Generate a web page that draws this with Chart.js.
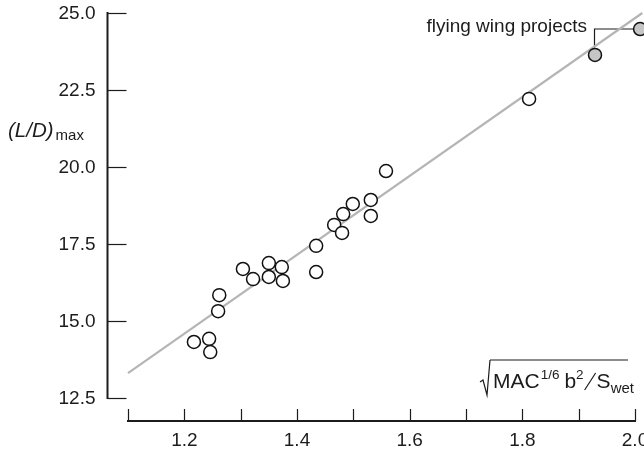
<!DOCTYPE html>
<html>
<head>
<meta charset="utf-8">
<style>
  html, body { margin: 0; padding: 0; background: #fff; }
  #wrap { width: 644px; height: 451px; }
</style>
<script src="https://cdn.jsdelivr.net/npm/chart.js@4.4.1/dist/chart.umd.min.js"></script>
</head>
<body>
<div id="wrap"><canvas id="chart" width="644" height="451"></canvas></div>
<script>
// conventional aircraft: sqrt(MAC^(1/6) b^2 / S_wet) against (L/D)max
const planeX = [1.217, 1.244, 1.246, 1.262, 1.260, 1.304, 1.322, 1.350, 1.350, 1.373, 1.375,
                1.434, 1.434, 1.466, 1.480, 1.482, 1.499, 1.531, 1.531, 1.558, 1.812];
const planeY = [14.32, 14.42, 13.99, 15.84, 15.32, 16.69, 16.36, 16.88, 16.43, 16.75, 16.30,
                17.44, 16.59, 18.12, 17.86, 18.47, 18.80, 18.93, 18.41, 19.87, 22.21];

// flying wing projects (grey markers)
const wingX = [1.929, 2.009];
const wingY = [23.64, 24.48];

// fitted trend line end points
const trendX = [1.1, 2.013];
const trendY = [13.31, 25.0];

const yTicks = [12.5, 15.0, 17.5, 20.0, 22.5, 25.0];
const yTickLabels = ['12.5', '15.0', '17.5', '20.0', '22.5', '25.0'];
const xTicks = [1.1, 1.2, 1.3, 1.4, 1.5, 1.6, 1.7, 1.8, 1.9, 2.0];
const xTickLabels = ['1.2', '1.4', '1.6', '1.8', '2.0'];

const toPoints = (xs, ys) => xs.map((x, i) => ({ x: x, y: ys[i] }));

const INK = '#1c1c1c';
const FONT = '"Liberation Sans", Arial, Helvetica, sans-serif';

// axes are drawn offset from the plot, ticks pointing inward
const axesPlugin = {
    id: 'offsetAxes',
    beforeDatasetsDraw(chart) {
        // bracket for the flying wing label
        const ctx = chart.ctx;
        const xs = chart.scales.x, ys = chart.scales.y;
        const ax = xs.getPixelForValue(wingX[0]), ay = ys.getPixelForValue(wingY[0]);
        const bx = xs.getPixelForValue(wingX[1]), by = ys.getPixelForValue(wingY[1]);
        ctx.save();
        ctx.strokeStyle = INK;
        ctx.lineWidth = 1.2;
        ctx.beginPath();
        ctx.moveTo(ax - 0.5, ay - 7);
        ctx.lineTo(ax - 0.5, by);
        ctx.lineTo(bx, by);
        ctx.stroke();
        ctx.fillStyle = INK;
        ctx.font = '19px ' + FONT;
        ctx.textAlign = 'right';
        ctx.textBaseline = 'alphabetic';
        ctx.fillText('flying wing projects', ax - 8, by + 3);
        ctx.restore();
    },
    afterDraw(chart) {
        const ctx = chart.ctx;
        const xs = chart.scales.x, ys = chart.scales.y;
        const area = chart.chartArea;
        const yAxisX = area.left - 20.5;
        const xAxisY = area.bottom + 23;

        ctx.save();
        ctx.strokeStyle = INK;
        ctx.fillStyle = INK;

        // y axis
        ctx.lineWidth = 2;
        ctx.beginPath();
        ctx.moveTo(yAxisX, ys.getPixelForValue(yTicks[yTicks.length - 1]) - 1);
        ctx.lineTo(yAxisX, ys.getPixelForValue(yTicks[0]) + 1);
        ctx.stroke();
        ctx.lineWidth = 1.2;
        yTicks.forEach(v => {
            const py = Math.round(ys.getPixelForValue(v)) + 0.5;
            ctx.beginPath();
            ctx.moveTo(yAxisX, py);
            ctx.lineTo(yAxisX + 19, py);
            ctx.stroke();
        });
        ctx.font = '19px ' + FONT;
        ctx.textAlign = 'right';
        ctx.textBaseline = 'middle';
        yTickLabels.forEach((lab, i) => {
            ctx.fillText(lab, yAxisX - 12, ys.getPixelForValue(yTicks[i]) + 0.5);
        });

        // x axis
        ctx.lineWidth = 2;
        ctx.beginPath();
        ctx.moveTo(xs.getPixelForValue(xTicks[0]) - 1, xAxisY);
        ctx.lineTo(xs.getPixelForValue(xTicks[xTicks.length - 1]) + 1, xAxisY);
        ctx.stroke();
        ctx.lineWidth = 1.2;
        xTicks.forEach(v => {
            const px = Math.round(xs.getPixelForValue(v)) + 0.5;
            ctx.beginPath();
            ctx.moveTo(px, xAxisY);
            ctx.lineTo(px, xAxisY - 12);
            ctx.stroke();
        });
        ctx.textAlign = 'center';
        ctx.textBaseline = 'alphabetic';
        xTickLabels.forEach(lab => {
            ctx.fillText(lab, xs.getPixelForValue(parseFloat(lab)), xAxisY + 25);
        });

        // y title: (L/D)max
        ctx.textAlign = 'left';
        ctx.font = 'italic 20.5px ' + FONT;
        ctx.fillText('(L/D)', 8, 137);
        const w = ctx.measureText('(L/D)').width;
        ctx.font = '15px ' + FONT;
        ctx.fillText('max', 8 + w + 2, 140);

        // x title: sqrt(MAC^(1/6) b^2 / S_wet)
        const bx = area.right - 152;
        const base = xAxisY - 33;
        ctx.lineWidth = 1.2;
        ctx.beginPath();
        ctx.moveTo(bx - 3, base - 6);
        ctx.lineTo(bx, base - 8);
        ctx.lineTo(bx + 4, base + 7);
        ctx.lineTo(bx + 7, base - 28);
        let cx = bx + 10;
        ctx.font = '21px ' + FONT;
        ctx.fillText('MAC', cx, base);
        cx += ctx.measureText('MAC').width + 1;
        ctx.font = '13.5px ' + FONT;
        ctx.fillText('1/6', cx, base - 9);
        cx += ctx.measureText('1/6').width + 5;
        ctx.font = '21px ' + FONT;
        ctx.fillText('b', cx, base);
        cx += ctx.measureText('b').width;
        ctx.font = '13.5px ' + FONT;
        ctx.fillText('2', cx, base - 9);
        cx += ctx.measureText('2').width + 1;
        ctx.moveTo(cx, base + 2);
        ctx.lineTo(cx + 11, base - 15);
        cx += 12;
        ctx.font = '21px ' + FONT;
        ctx.fillText('S', cx, base);
        cx += ctx.measureText('S').width;
        ctx.font = '15px ' + FONT;
        ctx.fillText('wet', cx, base + 5);
        cx += ctx.measureText('wet').width;
        // overline of the root sign
        ctx.moveTo(bx + 7, base - 28);
        ctx.lineTo(cx - 6, base - 28);
        ctx.stroke();

        ctx.restore();
    }
};

new Chart(document.getElementById('chart'), {
    type: 'scatter',
    data: {
        datasets: [
            {
                label: 'aircraft',
                data: toPoints(planeX, planeY),
                backgroundColor: '#ffffff',
                borderColor: '#111111',
                borderWidth: 1.5,
                pointRadius: 6.5,
                order: 1,
                clip: false
            },
            {
                label: 'flying wing projects',
                data: toPoints(wingX, wingY),
                backgroundColor: '#c6c6c6',
                borderColor: '#111111',
                borderWidth: 1.5,
                pointRadius: 6.5,
                order: 1,
                clip: false
            },
            {
                type: 'line',
                label: 'trend',
                data: toPoints(trendX, trendY),
                borderColor: '#b5b5b5',
                borderWidth: 2.2,
                pointRadius: 0,
                fill: false,
                order: 2,
                clip: false
            }
        ]
    },
    options: {
        responsive: false,
        animation: false,
        devicePixelRatio: 1,
        layout: { padding: { left: 128, right: 9, top: 13, bottom: 53 } },
        plugins: {
            legend: { display: false },
            tooltip: { enabled: false }
        },
        scales: {
            x: { type: 'linear', min: 1.1, max: 2.0, display: false },
            y: { type: 'linear', min: 12.5, max: 25.0, display: false }
        }
    },
    plugins: [axesPlugin]
});
</script>
</body>
</html>
